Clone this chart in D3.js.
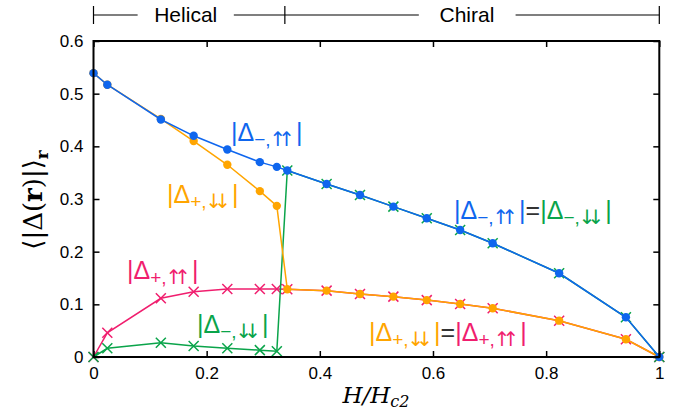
<!DOCTYPE html>
<html>
<head>
<meta charset="utf-8">
<script src="https://cdn.jsdelivr.net/npm/d3@7"></script>
<style>
  body { margin: 0; background: #fff; }
</style>
</head>
<body>
<div id="grafico"></div>
<script>
const ancho = 689;
const alto = 414;

// valores
const hHelical = [0, 0.0244, 0.119, 0.177, 0.2365, 0.294, 0.324];
const hChiral = [0.3425, 0.412, 0.471, 0.530, 0.589, 0.648, 0.7055, 0.823, 0.941, 1];

const menosArribaHel = [0.539, 0.517, 0.451, 0.420, 0.394, 0.370, 0.361];
const masAbajoHel = [0.539, 0.517, 0.452, 0.410, 0.365, 0.315, 0.287];
const masArribaHel = [0, 0.046, 0.1115, 0.124, 0.129, 0.129, 0.129];
const menosAbajoHel = [0, 0.0165, 0.027, 0.021, 0.0165, 0.013, 0.011];

const menosChiral = [0.354, 0.3286, 0.3077, 0.2855, 0.2634, 0.241, 0.216, 0.159, 0.0754, 0];
const masChiral = [0.1286, 0.126, 0.1197, 0.1146, 0.108, 0.1007, 0.0925, 0.069, 0.0336, 0];

const ticksX = [0, 0.2, 0.4, 0.6, 0.8, 1];
const ticksY = [0, 0.1, 0.2, 0.3, 0.4, 0.5, 0.6];

const azul = "#0f66ee";
const naranja = "#ffa500";
const rosa = "#f01e6e";
const verde = "#0aa44a";

const sans = "Liberation Sans, Arial, sans-serif";
const serif = "DejaVu Serif, serif";

const x = d3.scaleLinear().domain([0, 1]).range([93.5, 659.3]);
const y = d3.scaleLinear().domain([0, 0.6]).range([357, 41]);

const svg = d3.select("#grafico").append("svg")
  .attr("width", ancho)
  .attr("height", alto);

function juntar(hs, vs) {
  return hs.map((h, i) => ({ h: h, v: vs[i] }));
}

const series = {
  rosa: juntar(hHelical.concat(hChiral), masArribaHel.concat(masChiral)),
  verde: juntar(hHelical.concat(hChiral), menosAbajoHel.concat(menosChiral)),
  naranja: juntar(hHelical.concat(hChiral), masAbajoHel.concat(masChiral)),
  azul: juntar(hHelical.concat(hChiral), menosArribaHel.concat(menosChiral))
};

const linea = d3.line().x(d => x(d.h)).y(d => y(d.v));

function dibujarLinea(datos, color) {
  svg.append("path")
    .datum(datos)
    .attr("d", linea)
    .attr("fill", "none")
    .attr("stroke", color)
    .attr("stroke-width", 1.5);
}

function dibujarCruces(datos, color) {
  const t = 5;
  svg.append("g").selectAll("path")
    .data(datos)
    .enter().append("path")
    .attr("d", d => {
      const cx = x(d.h), cy = y(d.v);
      return `M${cx - t},${cy - t}L${cx + t},${cy + t}M${cx - t},${cy + t}L${cx + t},${cy - t}`;
    })
    .attr("stroke", color)
    .attr("stroke-width", 1.5)
    .attr("fill", "none");
}

function dibujarCirculos(datos, color) {
  svg.append("g").selectAll("circle")
    .data(datos)
    .enter().append("circle")
    .attr("cx", d => x(d.h))
    .attr("cy", d => y(d.v))
    .attr("r", 4.2)
    .attr("fill", color);
}

// orden de dibujo: cruces debajo de circulos
dibujarLinea(series.rosa, rosa);
dibujarCruces(series.rosa, rosa);
dibujarLinea(series.verde, verde);
dibujarCruces(series.verde, verde);
dibujarLinea(series.naranja, naranja);
dibujarCirculos(series.naranja, naranja);
dibujarLinea(series.azul, azul);
dibujarCirculos(series.azul, azul);

// marco y ticks hacia adentro
const [x0, x1] = x.range();
const [y0, y1] = y.range();

svg.append("g").attr("transform", `translate(0,${y0})`)
  .call(d3.axisBottom(x).tickValues(ticksX).tickSizeInner(-6).tickSizeOuter(0).tickPadding(10)
    .tickFormat(d => d3.format("")(d)));
svg.append("g").attr("transform", `translate(0,${y1})`)
  .call(d3.axisTop(x).tickValues(ticksX).tickSizeInner(-6).tickSizeOuter(0).tickFormat(""));
svg.append("g").attr("transform", `translate(${x0},0)`)
  .call(d3.axisLeft(y).tickValues(ticksY).tickSizeInner(-6).tickSizeOuter(0).tickPadding(10)
    .tickFormat(d => d3.format("")(d)));
svg.append("g").attr("transform", `translate(${x1},0)`)
  .call(d3.axisRight(y).tickValues(ticksY).tickSizeInner(-6).tickSizeOuter(0).tickFormat(""));

svg.selectAll(".domain").remove();
svg.selectAll(".tick line").attr("stroke", "#000").attr("stroke-width", 1.5);
svg.selectAll(".tick text").attr("fill", "#000")
  .style("font-family", sans).style("font-size", "17px");

svg.append("rect")
  .attr("x", x0).attr("y", y1)
  .attr("width", x1 - x0).attr("height", y0 - y1)
  .attr("fill", "none").attr("stroke", "#000").attr("stroke-width", 2);

// banda superior Helical / Chiral
const bandaY = 15;
const limites = [0, 0.3382, 1];
limites.forEach(h => {
  svg.append("line")
    .attr("x1", x(h)).attr("x2", x(h))
    .attr("y1", bandaY - 9).attr("y2", bandaY + 9)
    .attr("stroke", "#000").attr("stroke-width", 1.2);
});
const tramos = [[0, 0.078], [0.248, 0.3382], [0.3382, 0.575], [0.746, 1]];
tramos.forEach(t => {
  svg.append("line")
    .attr("x1", x(t[0])).attr("x2", x(t[1]))
    .attr("y1", bandaY).attr("y2", bandaY)
    .attr("stroke", "#000").attr("stroke-width", 1.2);
});
svg.append("text").attr("x", x(0.163)).attr("y", bandaY + 7)
  .attr("text-anchor", "middle").style("font-family", sans).style("font-size", "21px").text("Helical");
svg.append("text").attr("x", x(0.66)).attr("y", bandaY + 7)
  .attr("text-anchor", "middle").style("font-family", sans).style("font-size", "21px").text("Chiral");

// etiquetas de las curvas
function etiqueta(px, py, partes) {
  const t = svg.append("text").attr("x", px).attr("y", py)
    .style("font-size", "25px").style("font-family", sans);
  partes.forEach(p => {
    if (p.sub) {
      t.append("tspan").attr("fill", p.c).style("font-size", "19px").attr("dy", 5).text(p.t);
      t.append("tspan").attr("fill", p.c).style("font-size", "20px")
        .style("font-family", "DejaVu Sans, sans-serif")
        .style("letter-spacing", "-8px").attr("dx", -1).attr("dy", 0).text(p.f);
      t.append("tspan").attr("fill", p.c).attr("dx", 9).attr("dy", -5).text("|");
    } else {
      t.append("tspan").attr("fill", p.c).text(p.t);
    }
  });
}
function delta(signo, flechas, color) {
  return [{ t: "|Δ", c: color }, { t: signo + ",", f: flechas, c: color, sub: true }];
}
const arriba = "↑↑", abajo = "↓↓";

etiqueta(231, 141, delta("−", arriba, azul));
etiqueta(167, 203, delta("+", abajo, naranja));
etiqueta(127, 279, delta("+", arriba, rosa));
etiqueta(197, 333, delta("−", abajo, verde));
etiqueta(454, 219, delta("−", arriba, azul).concat([{ t: "=", c: "#333" }], delta("−", abajo, verde)));
etiqueta(369, 341, delta("+", abajo, naranja).concat([{ t: "=", c: "#333" }], delta("+", arriba, rosa)));

// titulos de ejes
const ejeX = svg.append("text")
  .attr("x", 376).attr("y", 403)
  .attr("text-anchor", "middle")
  .style("font-family", serif)
  .style("font-style", "italic")
  .style("font-size", "23px");
ejeX.append("tspan").text("H/H");
ejeX.append("tspan").style("font-size", "16px").attr("dy", 4).text("c2");

const ejeY = svg.append("text")
  .attr("transform", "translate(42,200) rotate(-90)")
  .attr("text-anchor", "middle")
  .style("font-family", serif)
  .style("font-size", "26px");
ejeY.append("tspan").text("⟨|Δ(");
ejeY.append("tspan").style("font-weight", "bold").text("r");
ejeY.append("tspan").text(")|⟩");
ejeY.append("tspan").style("font-weight", "bold").style("font-size", "17px").attr("dy", 6).text("r");
</script>
</body>
</html>
